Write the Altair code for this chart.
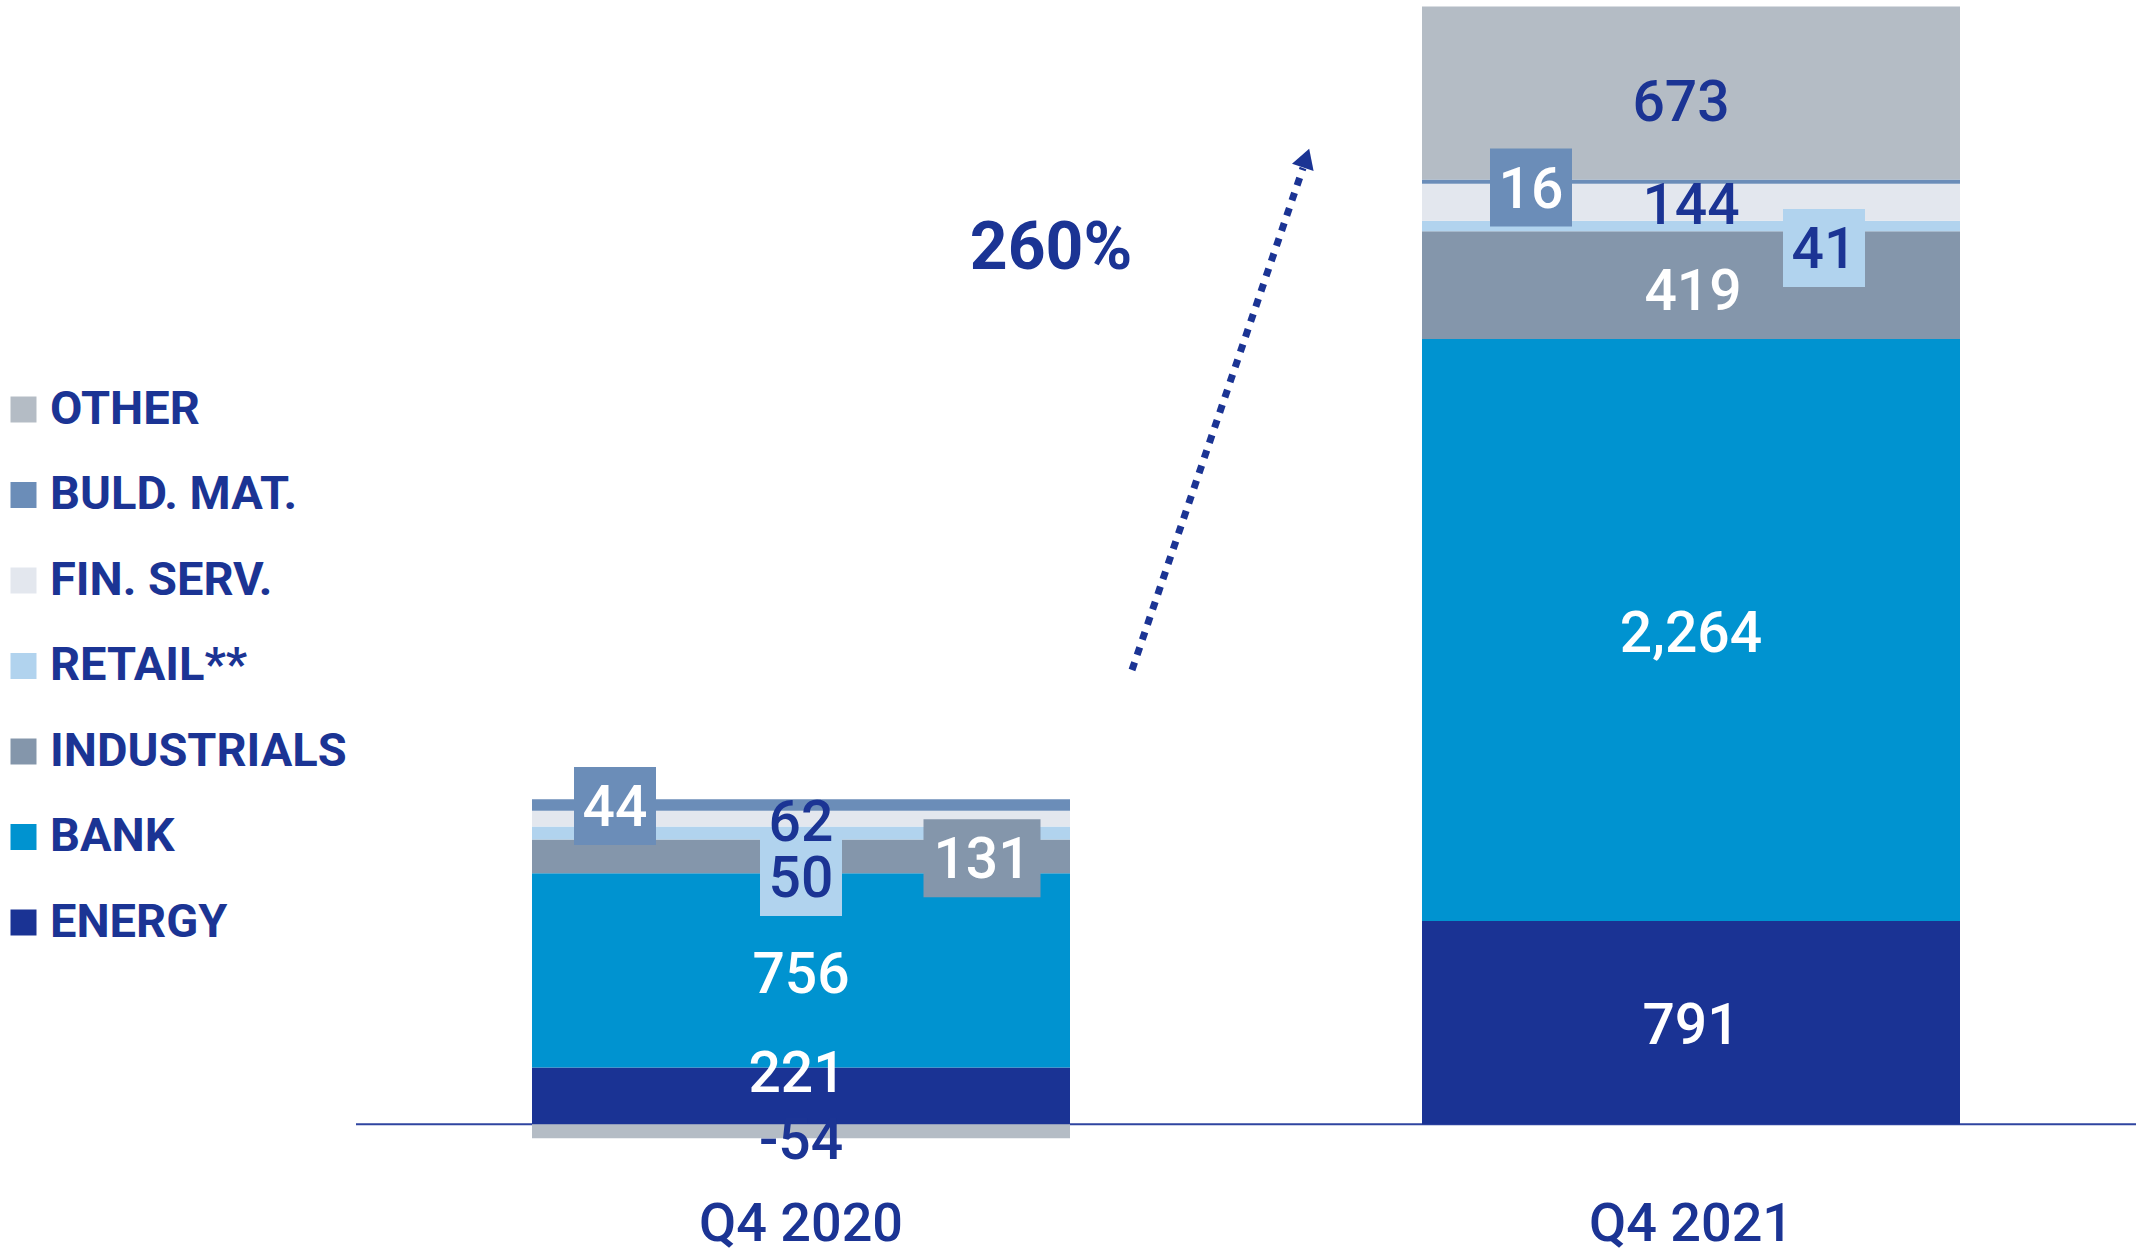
import altair as alt
import pandas as pd

# ---------------- data ----------------
periods = ["Q4 2020", "Q4 2021"]
sectors = ["ENERGY", "BANK", "INDUSTRIALS", "RETAIL**", "FIN. SERV.", "BULD. MAT.", "OTHER"]
values_2020 = [221, 756, 131, 50, 62, 44, -54]
values_2021 = [791, 2264, 419, 41, 144, 16, 673]
labels_2020 = ["221", "756", "131", "50", "62", "44", "-54"]
labels_2021 = ["791", "2,264", "419", "41", "144", "16", "673"]
growth_label = "260%"

# ---------------- styles ----------------
NAVY = "#1B3494"
WHITE = "#FFFFFF"
sector_colors = {
    "ENERGY": "#1A3394",
    "BANK": "#0093D0",
    "INDUSTRIALS": "#8496AB",
    "RETAIL**": "#B1D3EE",
    "FIN. SERV.": "#E3E7EE",
    "BULD. MAT.": "#6B8DB8",
    "OTHER": "#B4BCC5",
}
legend_order = ["OTHER", "BULD. MAT.", "FIN. SERV.", "RETAIL**", "INDUSTRIALS", "BANK", "ENERGY"]

# label nudges in pixels (dx, dy), text colour, box width (None = no box)
label_style = {
    ("Q4 2020", "ENERGY"): (-4, -21, WHITE, None),
    ("Q4 2020", "BANK"): (0, 6, WHITE, None),
    ("Q4 2020", "INDUSTRIALS"): (181, 5, WHITE, 117),
    ("Q4 2020", "RETAIL**"): (0, 47, NAVY, 82),
    ("Q4 2020", "FIN. SERV."): (0, 5, NAVY, None),
    ("Q4 2020", "BULD. MAT."): (-186, 4, WHITE, 82),
    ("Q4 2020", "OTHER"): (0, 11, NAVY, None),
    ("Q4 2021", "ENERGY"): (0, 4, WHITE, None),
    ("Q4 2021", "BANK"): (0, 5, WHITE, None),
    ("Q4 2021", "INDUSTRIALS"): (2, 8, WHITE, None),
    ("Q4 2021", "RETAIL**"): (133, 25, NAVY, 82),
    ("Q4 2021", "FIN. SERV."): (0, 5, NAVY, None),
    ("Q4 2021", "BULD. MAT."): (-160, 9, WHITE, 82),
    ("Q4 2021", "OTHER"): (-10, 11, NAVY, None),
}

PLOT_W, PLOT_H = 1780, 1144
BAR_SIZE = 538
BOX_H = 78
VAL_FONT = 57

# ---------------- table ----------------
rows = []
for period, vals, labs in [("Q4 2020", values_2020, labels_2020), ("Q4 2021", values_2021, labels_2021)]:
    pos, neg = 0.0, 0.0
    for i, (s, v, lab) in enumerate(zip(sectors, vals, labs)):
        if v >= 0:
            start, end = pos, pos + v
            pos = end
        else:
            start, end = neg, neg + v
            neg = end
        rows.append(dict(period=period, sector=s, value=v, start=start, end=end,
                         mid=(start + end) / 2, label=lab, order=i))
df = pd.DataFrame(rows)

yscale = alt.Scale(domain=[-100, 4350], nice=False, zero=False)
xscale = alt.Scale(domain=periods, paddingInner=0, paddingOuter=0)
xaxis = alt.Axis(title=None, domain=False, ticks=False, labelAngle=0, labelFontSize=54,
                 labelFont="Roboto", labelFontWeight=500, labelColor=NAVY, labelLimit=0,
                 labelPadding=47, labelBaseline="top", grid=False)

baseline = alt.Chart(pd.DataFrame({"v": [0]})).mark_rule(color="#2F45A0", strokeWidth=2).encode(
    y=alt.Y("v:Q", scale=yscale, axis=None)
)

bars = alt.Chart(df).mark_bar(size=BAR_SIZE).encode(
    x=alt.X("period:N", scale=xscale, axis=xaxis, sort=periods),
    y=alt.Y("start:Q", scale=yscale, axis=None),
    y2="end:Q",
    color=alt.Color(
        "sector:N",
        scale=alt.Scale(domain=legend_order, range=[sector_colors[s] for s in legend_order]),
        legend=alt.Legend(
            orient="none", legendX=-356, legendY=380, title=None,
            symbolType="square", symbolSize=676, symbolStrokeWidth=0, symbolOpacity=1,
            labelFont="Roboto", labelFontSize=47, labelFontWeight="bold", labelColor=NAVY,
            labelOffset=3, rowPadding=37.5, padding=0, labelLimit=0,
        ),
    ),
    order=alt.Order("order:Q"),
)

layers = [baseline, bars]

# boxes behind labels
for (period, sector), (dx, dy, tcol, bw) in label_style.items():
    if bw is None:
        continue
    r = BOX_H / bw
    path = f"M-1,-{r:.4f}L1,-{r:.4f}L1,{r:.4f}L-1,{r:.4f}Z"
    sub = df[(df.period == period) & (df.sector == sector)]
    layers.append(
        alt.Chart(sub).mark_point(shape=path, filled=True, size=bw * bw, opacity=1,
                                  color=sector_colors[sector], strokeWidth=0,
                                  xOffset=dx, yOffset=dy - 3).encode(
            x=alt.X("period:N", scale=xscale, sort=periods),
            y=alt.Y("mid:Q", scale=yscale),
        )
    )

# value labels
for (period, sector), (dx, dy, tcol, bw) in label_style.items():
    sub = df[(df.period == period) & (df.sector == sector)]
    layers.append(
        alt.Chart(sub).mark_text(dx=dx, dy=dy, fontSize=VAL_FONT, font="Roboto", fontWeight=500,
                                 color=tcol, align="center", baseline="middle").encode(
            x=alt.X("period:N", scale=xscale, sort=periods),
            y=alt.Y("mid:Q", scale=yscale),
            text="label:N",
        )
    )

# growth annotation
growth = alt.Chart(pd.DataFrame({"t": [growth_label]})).mark_text(
    fontSize=66, font="Roboto", fontWeight="bold", color=NAVY, align="center", baseline="middle"
).encode(x=alt.value(695), y=alt.value(243), text="t:N")

arrow_line = alt.Chart(pd.DataFrame({"a": [0]})).mark_rule(
    color=NAVY, strokeWidth=7, strokeDash=[8, 8], strokeCap="butt"
).encode(x=alt.value(776), y=alt.value(664), x2=alt.value(947), y2=alt.value(162))

arrow_head = alt.Chart(pd.DataFrame({"a": [0]})).mark_point(
    shape="triangle-up", filled=True, size=520, color=NAVY, opacity=1, angle=18.8, strokeWidth=0
).encode(x=alt.value(950), y=alt.value(152))

layers += [growth, arrow_line, arrow_head]

chart = alt.layer(*layers).properties(
    width=PLOT_W, height=PLOT_H,
    autosize=alt.AutoSizeParams(type="none"),
    padding={"left": 356, "top": 6, "right": 0, "bottom": 104},
).configure(
    background="white", font="Roboto", view=alt.ViewConfig(stroke=None, strokeWidth=0)
)

chart.save("out.html", embed_options={"renderer": "svg", "actions": False})
